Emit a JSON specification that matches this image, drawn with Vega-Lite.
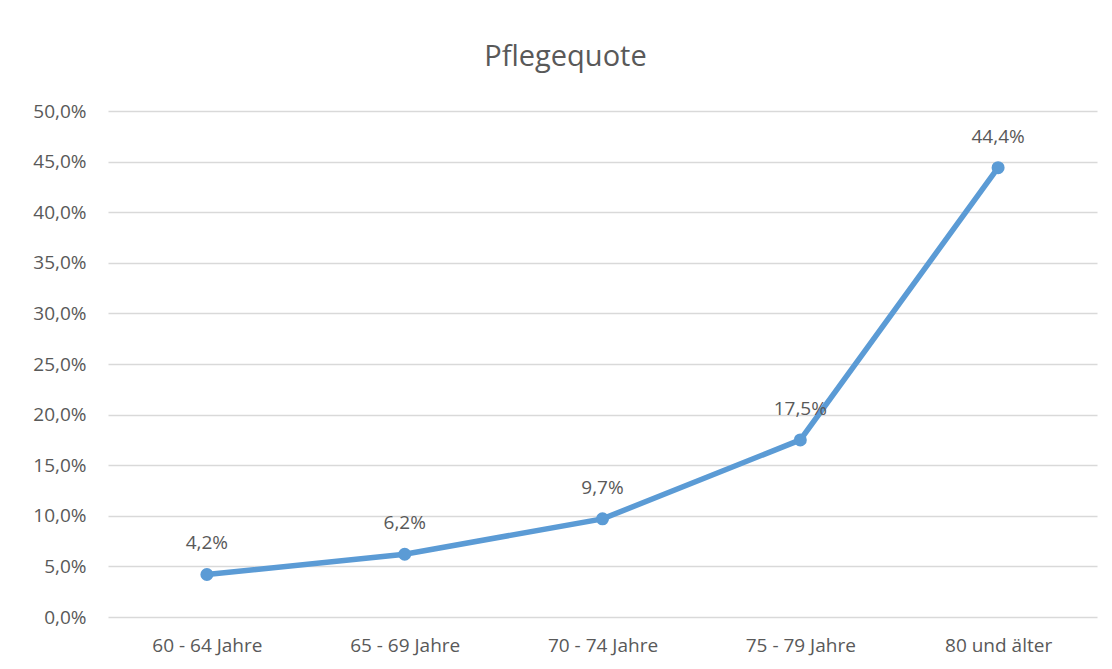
{
  "$schema": "https://vega.github.io/schema/vega-lite/v6.json",
  "width": 989,
  "height": 506,
  "autosize": {"type": "none"},
  "padding": {"left": 108, "top": 111, "right": 15, "bottom": 52},
  "background": "white",
  "config": {
    "locale": {"number": {"decimal": ",", "thousands": ".", "grouping": [3], "currency": ["", " €"]}},
    "view": {"stroke": null},
    "font": "Open Sans"
  },
  "title": {
    "text": "Pflegequote",
    "fontSize": 29,
    "font": "Open Sans",
    "fontWeight": "normal",
    "color": "#595959",
    "anchor": "middle",
    "dx": -37,
    "offset": 30
  },
  "data": {
    "values": [
      {"Alter": "60 - 64 Jahre", "Quote": 0.042},
      {"Alter": "65 - 69 Jahre", "Quote": 0.062},
      {"Alter": "70 - 74 Jahre", "Quote": 0.097},
      {"Alter": "75 - 79 Jahre", "Quote": 0.175},
      {"Alter": "80 und älter", "Quote": 0.444}
    ]
  },
  "encoding": {
    "x": {
      "field": "Alter",
      "type": "ordinal",
      "sort": null,
      "scale": {"type": "point", "padding": 0.5},
      "axis": {
        "title": null,
        "labelAngle": 0,
        "domain": false,
        "ticks": false,
        "grid": false,
        "labelFontSize": 19,
        "labelColor": "#595959",
        "labelPadding": 19
      }
    },
    "y": {
      "field": "Quote",
      "type": "quantitative",
      "scale": {"domain": [0, 0.5]},
      "axis": {
        "title": null,
        "format": ".1%",
        "values": [0, 0.05, 0.1, 0.15, 0.2, 0.25, 0.3, 0.35, 0.4, 0.45, 0.5],
        "domain": false,
        "ticks": false,
        "gridColor": "#d9d9d9",
        "gridWidth": 1.5,
        "labelFontSize": 19,
        "labelColor": "#595959",
        "labelPadding": 22
      }
    }
  },
  "layer": [
    {
      "mark": {"type": "line", "color": "#5b9bd5", "strokeWidth": 5.5, "strokeCap": "round"}
    },
    {
      "mark": {"type": "point", "filled": true, "opacity": 1, "color": "#5b9bd5", "size": 170}
    },
    {
      "mark": {"type": "text", "dy": -31, "fontSize": 19, "color": "#595959"},
      "encoding": {"text": {"field": "Quote", "type": "quantitative", "format": ".1%"}}
    }
  ]
}
